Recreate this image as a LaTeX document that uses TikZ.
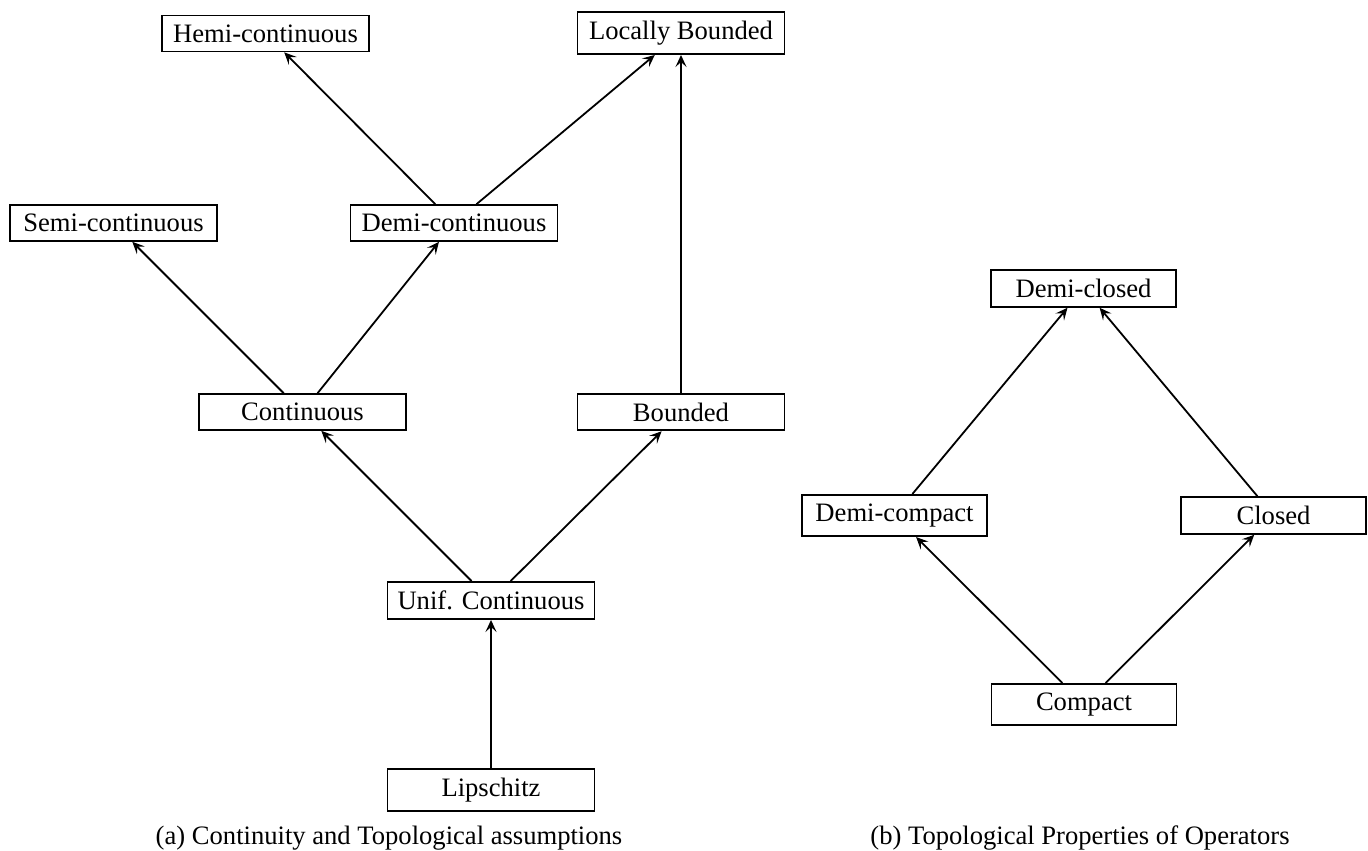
\documentclass[tikz,border=0pt]{standalone}
\usepackage{fontspec}
\setmainfont{Liberation Serif}
\usetikzlibrary{arrows.meta}
\tikzset{
  box/.style={draw, line width=0.9pt, inner xsep=4pt, inner ysep=4.5pt, font=\fontsize{13.3}{16}\selectfont},
  boxa/.style={box, minimum width=103.5pt},
  boxb/.style={box, minimum width=92.5pt},
  imp/.style={line width=0.9pt, -{Stealth[length=6pt,width=5.5pt,inset=2.5pt]}},
  captext/.style={font=\fontsize{13.3}{16}\selectfont, inner sep=0pt}
}
\begin{document}
\begin{tikzpicture}[x=0.5pt, y=-0.5pt]
\useasboundingbox (0,0) rectangle (1368,850);
% (a)
\node[boxa] (hemi)  at (265.5,33.5) {Hemi-continuous};
\node[boxa] (locb)  at (681,33)     {Locally Bounded};
\node[boxa] (semi)  at (113.5,223)  {Semi-continuous};
\node[boxa] (demi)  at (454,223)    {Demi-continuous};
\node[boxa] (cont)  at (302.5,412)  {Continuous};
\node[boxa] (bound) at (681,412)    {Bounded};
\node[boxa] (unif)  at (491,600.5)  {Unif. Continuous};
\node[boxa] (lip)   at (491,790)    {Lipschitz};
\draw[imp] (lip) -- (unif);
\draw[imp] (unif) -- (cont);
\draw[imp] (unif) -- (bound);
\draw[imp] (cont) -- (semi);
\draw[imp] (cont) -- (demi);
\draw[imp] (demi) -- (hemi);
\draw[imp] (demi) -- (locb);
\draw[imp] (bound) -- (locb);
% (b)
\node[boxb] (dclosed)  at (1083.5,288.5) {Demi-closed};
\node[boxb] (dcompact) at (894.5,515.5)  {Demi-compact};
\node[boxb] (closed)   at (1273.5,515.5) {Closed};
\node[boxb] (compact)  at (1084,704.5)   {Compact};
\draw[imp] (compact) -- (dcompact);
\draw[imp] (compact) -- (closed);
\draw[imp] (dcompact) -- (dclosed);
\draw[imp] (closed) -- (dclosed);
% captions
\node[captext] (capa) at (389,838) {(a) Continuity and Topological assumptions};
\node[captext] (capb) at (1080,838) {(b) Topological Properties of Operators};
\end{tikzpicture}
\end{document}
